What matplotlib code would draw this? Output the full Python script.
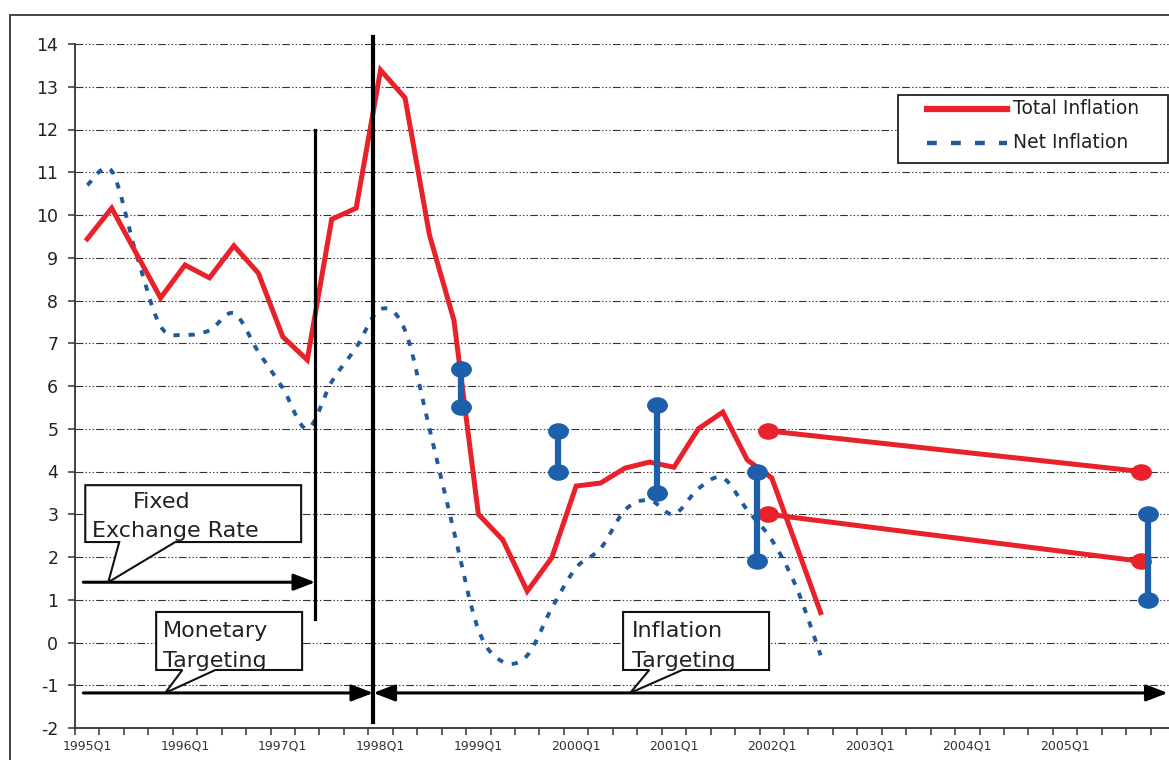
import numpy as np
import matplotlib
matplotlib.use("Agg")
import matplotlib.pyplot as plt
from matplotlib.path import Path
from matplotlib.patches import PathPatch, Polygon, Rectangle
from matplotlib.markers import MarkerStyle
from matplotlib.transforms import Affine2D
from matplotlib.lines import Line2D

plt.rcParams["axes.unicode_minus"] = False

# quarterly data, index 0 = 1995Q1
total_inflation = [9.44, 10.16, 9.11, 8.06, 8.83, 8.53, 9.28, 8.64, 7.15, 6.61,
                   9.9, 10.16, 13.39, 12.74, 9.53, 7.54, 3.0, 2.4, 1.2, 1.98,
                   3.66, 3.73, 4.08, 4.22, 4.1, 5.0, 5.39, 4.27, 3.85, 2.28, 0.7]
net_inflation = [10.7, 11.03, 9.1, 7.4, 7.2, 7.3, 7.7, 6.8, 5.95, 5.0,
                 6.1, 6.9, 7.8, 7.3, 5.0, 2.6, 0.3, -0.45, -0.3, 0.8,
                 1.75, 2.2, 3.1, 3.33, 3.0, 3.6, 3.85, 3.1, 2.4, 1.3, -0.3]

# net inflation targets (end of year)
target_x = [15.3, 19.26, 23.31, 27.4, 43.39]
target_lo = [5.5, 4.0, 3.5, 1.9, 1.0]
target_hi = [6.4, 4.95, 5.55, 4.0, 3.0]

# total inflation target band 2002-2005
band_x = [27.85, 43.1]
band_hi = [4.95, 4.0]
band_lo = [3.0, 1.9]

year_labels = ["1995Q1", "1996Q1", "1997Q1", "1998Q1", "1999Q1", "2000Q1",
               "2001Q1", "2002Q1", "2003Q1", "2004Q1", "2005Q1"]

# regime changes
float_x = 9.33
it_start_x = 11.7

RED = "#e8212b"
BLUE = "#1d5fab"
NET_BLUE = "#1f5a9c"


def smooth_path(x, y):
    """Catmull-Rom style smooth curve like Excel's smoothed line"""
    pts = np.column_stack([x, y])
    verts = [pts[0]]
    codes = [Path.MOVETO]
    n = len(pts)
    for i in range(n - 1):
        p0 = pts[max(i - 1, 0)]
        p1 = pts[i]
        p2 = pts[i + 1]
        p3 = pts[min(i + 2, n - 1)]
        c1 = p1 + (p2 - p0) / 6.0
        c2 = p2 - (p3 - p1) / 6.0
        verts += [c1, c2, p2]
        codes += [Path.CURVE4] * 3
    return Path(verts, codes)


W, H = 1169, 760
fig = plt.figure(figsize=(W / 100, H / 100), dpi=100)
fig.patch.set_facecolor("white")

# outer frame (cropped on right / bottom)
fig.patches.append(Rectangle((10 / W, -0.2), 2.0, 1.2 - 15 / H,
                             transform=fig.transFigure, fill=False,
                             edgecolor="#444444", lw=1.4))

ax = fig.add_axes([75 / W, 1 - 728 / H, 1 - 75 / W, (728 - 44) / H])
ax.set_xlim(-0.5, 44.25)
ax.set_ylim(-2, 14)

for s in ["top", "right"]:
    ax.spines[s].set_visible(False)
for s in ["left", "bottom"]:
    ax.spines[s].set_color("#333333")
    ax.spines[s].set_linewidth(1.3)

# y axis
ax.set_yticks(range(-2, 15))
ax.tick_params(axis="y", direction="out", length=5, width=1.1,
               color="#333333", labelsize=12.5, labelcolor="#222222", pad=7)
for v in range(-1, 15):
    ax.axhline(v, color="#333333", lw=0.8, zorder=0.5,
               linestyle=(0, (7, 2, 1.2, 2, 1.2, 2, 1.2, 2)))

# x axis: ticks at quarter boundaries, labels at every first quarter
ax.set_xticks(np.arange(-0.5, 44.5, 1.0))
ax.set_xticklabels([])
ax.tick_params(axis="x", which="major", direction="out", length=5,
               width=1.1, color="#333333")
ax.set_xticks(np.arange(0, 44, 4), minor=True)
ax.set_xticklabels(year_labels, minor=True)
ax.tick_params(axis="x", which="minor", length=0, labelsize=9,
               labelcolor="#333333", pad=8)

# series
q = np.arange(len(total_inflation))
ax.plot(q, total_inflation, color=RED, lw=3.6, solid_joinstyle="miter",
        zorder=4)
qn = np.arange(len(net_inflation))
ax.add_patch(PathPatch(smooth_path(qn, net_inflation), fill=False,
                       edgecolor=NET_BLUE, lw=2.8,
                       linestyle=(0, (1.6, 2.3)), zorder=3))

# elliptical dot marker
ell = Path.unit_circle().transformed(Affine2D().scale(1.0, 0.78))
dot = MarkerStyle(ell)

ax.plot(band_x, band_hi, color=RED, lw=3.6, marker=dot, ms=14,
        zorder=5)
ax.plot(band_x, band_lo, color=RED, lw=3.6, marker=dot, ms=14,
        zorder=5)
for x, lo, hi in zip(target_x, target_lo, target_hi):
    ax.plot([x, x], [lo, hi], color=BLUE, lw=4.5, marker=dot, ms=14,
            zorder=6)

# regime lines
ax.plot([float_x, float_x], [12, 0.55], color="black", lw=2.3, zorder=7)
ax.plot([it_start_x, it_start_x], [14.16, -1.86], color="black", lw=3.0,
        zorder=7, clip_on=False)

arrow_kw = dict(lw=2.2, color="black", shrinkA=0, shrinkB=0,
                mutation_scale=20)
ax.annotate("", xy=(float_x, 1.41), xytext=(-0.16, 1.41),
            arrowprops=dict(arrowstyle="-|>,head_length=0.65,head_width=0.25",
                            **arrow_kw), zorder=7)
ax.annotate("", xy=(it_start_x, -1.18), xytext=(-0.16, -1.18),
            arrowprops=dict(arrowstyle="-|>,head_length=0.65,head_width=0.25",
                            **arrow_kw), zorder=7)
ax.annotate("", xy=(44.2, -1.18), xytext=(it_start_x, -1.18),
            arrowprops=dict(arrowstyle="<|-|>,head_length=0.65,head_width=0.25",
                            **arrow_kw), zorder=7, annotation_clip=False)

# callout boxes
callouts = [
    [(-0.08, 3.68), (8.75, 3.68), (8.75, 2.35), (3.6, 2.35), (0.86, 1.41),
     (1.31, 2.35), (-0.08, 2.35)],
    [(2.82, 0.714), (8.79, 0.714), (8.79, -0.643), (5.24, -0.643),
     (3.19, -1.18), (3.89, -0.643), (2.82, -0.643)],
    [(21.92, 0.714), (27.89, 0.714), (27.89, -0.643), (24.34, -0.643),
     (22.21, -1.18), (22.99, -0.643), (21.92, -0.643)],
]
for pts in callouts:
    ax.add_patch(Polygon(pts, closed=True, facecolor="white",
                         edgecolor="#111111", lw=1.5, zorder=8))

txt = dict(fontsize=16, color="#222222", va="baseline", ha="left", zorder=9)
ax.text(1.88, 3.15, "Fixed", **txt)
ax.text(0.2, 2.475, "Exchange Rate", **txt)
ax.text(3.11, 0.136, "Monetary", **txt)
ax.text(3.11, -0.567, "Targeting", **txt)
ax.text(22.29, 0.136, "Inflation", **txt)
ax.text(22.29, -0.567, "Targeting", **txt)

# legend box
fig.patches.append(Rectangle((898 / W, 1 - 163 / H), 270 / W, 68 / H,
                             transform=fig.transFigure, facecolor="white",
                             edgecolor="#222222", lw=1.3, zorder=10))
fig.lines.append(Line2D([927 / W, 1007 / W], [1 - 109 / H, 1 - 109 / H],
                        transform=fig.transFigure, color=RED, lw=4.5,
                        zorder=11))
fig.lines.append(Line2D([927 / W, 1007 / W], [1 - 143 / H, 1 - 143 / H],
                        transform=fig.transFigure, color=NET_BLUE, lw=3.2,
                        linestyle=(0, (2.2, 3.2)), zorder=11))
fig.text(1013 / W, 1 - 109 / H, "Total Inflation", fontsize=13.5,
         color="#222222", va="center", ha="left", zorder=12)
fig.text(1013 / W, 1 - 143 / H, "Net Inflation", fontsize=13.5,
         color="#222222", va="center", ha="left", zorder=12)

fig.savefig("out.png", dpi=100)
